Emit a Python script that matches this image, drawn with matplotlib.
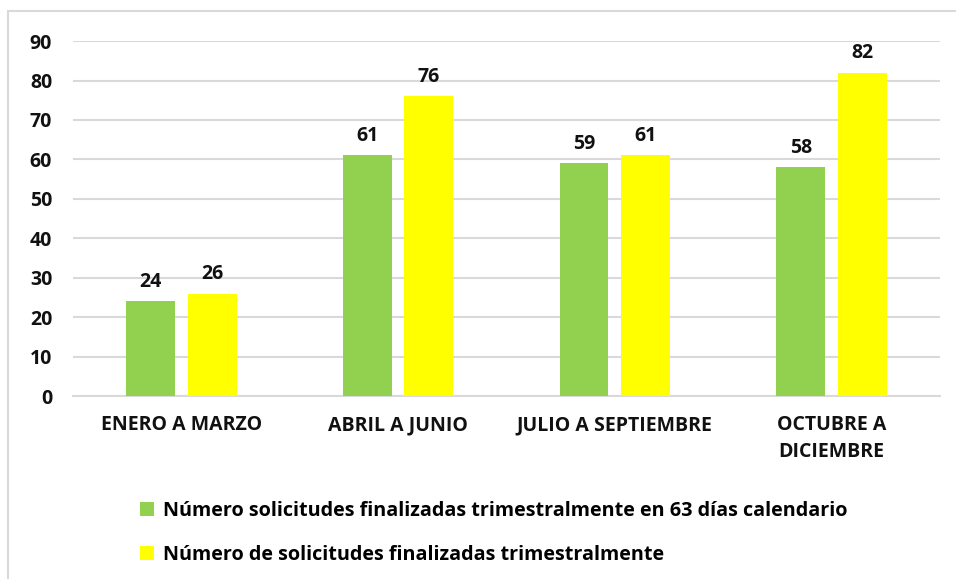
import matplotlib.pyplot as plt
from matplotlib.patches import Rectangle
import numpy as np

plt.rcParams['font.family'] = ['Open Sans', 'DejaVu Sans']
plt.rcParams['font.weight'] = 'bold'

categories = ['ENERO A MARZO', 'ABRIL A JUNIO', 'JULIO A SEPTIEMBRE', 'OCTUBRE A\nDICIEMBRE']
finalizadas_63 = [24, 61, 59, 58]
finalizadas_total = [26, 76, 61, 82]
labels = ['Número solicitudes finalizadas trimestralmente en 63 días calendario',
          'Número de solicitudes finalizadas trimestralmente']

fig = plt.figure(figsize=(9.56, 5.79), dpi=100)
ax = fig.add_axes([0.0764, 0.316, 0.9066, 0.613])

# marco del gráfico
fig.patches.append(Rectangle((8 / 956, -0.01), 1.0, 1 - 11 / 579 + 0.01, transform=fig.transFigure,
                             fill=False, edgecolor='#D9D9D9', linewidth=1.5))

x = np.arange(len(categories))
w = 0.225
b1 = ax.bar(x - 0.142, finalizadas_63, w, color='#92D050', label=labels[0], zorder=3)
b2 = ax.bar(x + 0.142, finalizadas_total, w, color='#FFFF00', label=labels[1], zorder=3)

for bars in (b1, b2):
    ax.bar_label(bars, padding=7, fontsize=14, fontweight='bold', color='#111111')

ax.set_xlim(-0.5, 3.5)
ax.set_ylim(0, 90)
ax.set_yticks(range(0, 91, 10))
ax.set_xticks(x)
ax.set_xticklabels(categories, fontsize=14, fontweight='bold', color='#111111', linespacing=1.45)
ax.tick_params(axis='y', length=0, pad=15, labelsize=14, labelcolor='#111111')
ax.tick_params(axis='x', length=0, pad=14)
ax.grid(axis='y', color='#D9D9D9', linewidth=1.5, zorder=0)
for s in ['top', 'right', 'left']:
    ax.spines[s].set_visible(False)
ax.spines['bottom'].set_color('#D9D9D9')
ax.spines['bottom'].set_linewidth(1.5)

fig.legend(handles=[b1, b2], loc='upper left', bbox_to_anchor=(0.128, 0.165), frameon=False,
           handlelength=0.7, handleheight=0.7, handletextpad=0.45,
           labelspacing=1.2, prop={'weight': 'bold', 'size': 14.2})

plt.savefig('out.png', dpi=100)
